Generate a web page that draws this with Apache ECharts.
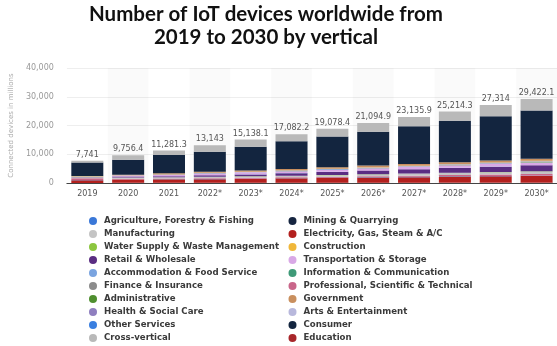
<!DOCTYPE html>
<html>
<head>
<meta charset="utf-8">
<script src="https://cdn.jsdelivr.net/npm/echarts@6/dist/echarts.min.js"></script>
<style>
html,body{margin:0;padding:0;background:#fff;}
#chart{width:557px;height:346px;}
</style>
</head>
<body>
<div id="chart"></div>
<script>
// ---- Data ----
var years = ['2019','2020','2021','2022*','2023*','2024*','2025*','2026*','2027*','2028*','2029*','2030*'];
var totals = [7741, 9756.4, 11281.3, 13143, 15138.1, 17082.2, 19078.4, 21094.9, 23135.9, 25214.3, 27314, 29422.1];
var yTicks = [0, 10000, 20000, 30000, 40000];

var education      = [40, 55, 60, 75, 80, 95, 100, 115, 120, 135, 140, 150];
var electricity    = [950, 1150, 1150, 1250, 1350, 1450, 1600, 1750, 1900, 2050, 2200, 2350];
var agriculture    = [15, 20, 22, 30, 33, 40, 44, 50, 56, 60, 66, 70];
var mining         = [20, 24, 30, 34, 40, 46, 50, 56, 60, 66, 70, 76];
var professional   = [650, 250, 260, 300, 310, 350, 360, 400, 410, 450, 460, 500];
var manufacturing  = [300, 380, 400, 450, 460, 500, 560, 600, 650, 700, 750, 800];
var waterSupply    = [14, 20, 26, 30, 34, 40, 46, 50, 54, 60, 64, 70];
var finance        = [20, 26, 30, 36, 40, 44, 50, 56, 60, 64, 70, 76];
var retail         = [100, 300, 350, 450, 650, 850, 1050, 1250, 1450, 1650, 1850, 2050];
var accommodation  = [16, 20, 24, 30, 36, 40, 44, 50, 56, 60, 66, 70];
var transportation = [150, 350, 450, 650, 600, 650, 700, 750, 800, 850, 900, 950];
var information    = [20, 26, 30, 34, 40, 46, 50, 54, 60, 66, 70, 76];
var administrative = [10, 12, 14, 16, 18, 20, 22, 24, 26, 28, 30, 32];
var health         = [30, 40, 50, 60, 70, 80, 90, 100, 110, 120, 130, 140];
var arts           = [20, 24, 30, 36, 40, 44, 50, 56, 60, 64, 70, 76];
var otherServices  = [15, 20, 24, 30, 34, 40, 46, 50, 54, 60, 66, 70];
var construction   = [30, 40, 50, 60, 70, 80, 90, 100, 110, 120, 130, 140];
var government     = [50, 150, 400, 350, 400, 450, 500, 550, 600, 650, 700, 750];
var consumer       = [4700, 5220, 6370, 6960, 8300, 9700, 10700, 11800, 13100, 14400, 15400, 16800];
var crossVertical  = [600, 1500, 1530, 2260, 2500, 2430, 2700, 3000, 3200, 3200, 3900, 4000];

var legendLeft = ['Agriculture, Forestry & Fishing','Manufacturing','Water Supply & Waste Management','Retail & Wholesale','Accommodation & Food Service','Finance & Insurance','Administrative','Health & Social Care','Other Services','Cross-vertical'];
var legendRight = ['Mining & Quarrying','Electricity, Gas, Steam & A/C','Construction','Transportation & Storage','Information & Communication','Professional, Scientific & Technical','Government','Arts & Entertainment','Consumer','Education'];

// stack order bottom -> top
var stackSeries = [
  ['Education', education, '#a8262a'],
  ['Electricity, Gas, Steam & A/C', electricity, '#b3201e'],
  ['Agriculture, Forestry & Fishing', agriculture, '#3a78d8'],
  ['Mining & Quarrying', mining, '#162540'],
  ['Professional, Scientific & Technical', professional, '#c9668a'],
  ['Manufacturing', manufacturing, '#c4c4c4'],
  ['Water Supply & Waste Management', waterSupply, '#8cc63f'],
  ['Finance & Insurance', finance, '#8c8c8c'],
  ['Retail & Wholesale', retail, '#5a2d82'],
  ['Accommodation & Food Service', accommodation, '#7aa4e0'],
  ['Transportation & Storage', transportation, '#d9a8e6'],
  ['Information & Communication', information, '#3f9a78'],
  ['Administrative', administrative, '#4f8f2f'],
  ['Health & Social Care', health, '#8f7fbf'],
  ['Arts & Entertainment', arts, '#b8b8dc'],
  ['Other Services', otherServices, '#3a7fe0'],
  ['Construction', construction, '#f0b73a'],
  ['Government', government, '#c98f5e'],
  ['Consumer', consumer, '#13253f'],
  ['Cross-vertical', crossVertical, '#b9b9b9']
];

function fmt(v){ return v.toLocaleString('en-US', {maximumFractionDigits: 1}); }

var series = stackSeries.map(function(s, i){
  var o = {
    name: s[0], type: 'bar', stack: 'all', data: s[1], barWidth: 32,
    itemStyle: {color: s[2]}, emphasis: {disabled: true}
  };
  if (i === stackSeries.length - 1) {
    o.label = {
      show: true, position: 'top', distance: 2,
      fontFamily: 'DejaVu Sans', fontSize: 8, color: '#555',
      formatter: function(p){ return fmt(totals[p.dataIndex]); }
    };
  }
  return o;
});

var legendCommon = {
  orient: 'vertical', icon: 'circle', itemWidth: 8, itemHeight: 8, itemGap: 4,
  selectedMode: false, padding: 0, height: 140,
  textStyle: {fontFamily: 'DejaVu Sans', fontSize: 8.6, fontWeight: 'bold', color: '#3a3a3a', lineHeight: 9, padding: [0,0,0,2]}
};

var chart = echarts.init(document.getElementById('chart'), null, {renderer: 'canvas'});
chart.setOption({
  animation: false,
  backgroundColor: '#fff',
  title: {
    text: 'Number of IoT devices worldwide from\n2019 to 2030 by vertical',
    left: 266, top: 3, textAlign: 'center', padding: 0,
    textStyle: {fontFamily: 'Lato', fontWeight: 'bold', fontSize: 20.5, lineHeight: 23, color: '#111'}
  },
  legend: [
    Object.assign({}, legendCommon, {left: 89, top: 216.5, data: legendLeft}),
    Object.assign({}, legendCommon, {left: 288.5, top: 216.5, data: legendRight})
  ],
  grid: {left: 63, right: -3, top: 68, bottom: 163, containLabel: false},
  xAxis: {
    type: 'category', data: years,
    axisLine: {lineStyle: {color: '#444', width: 1}},
    axisTick: {show: false},
    axisLabel: {fontFamily: 'DejaVu Sans', fontSize: 8, color: '#555', margin: 7},
    splitArea: {show: true, areaStyle: {color: ['rgba(255,255,255,0)', 'rgba(0,0,0,0.02)']}}
  },
  yAxis: {
    type: 'value', min: yTicks[0], max: yTicks[yTicks.length-1], interval: 10000,
    name: 'Connected devices in millions', nameLocation: 'middle', nameGap: 47,
    nameTextStyle: {fontFamily: 'DejaVu Sans', fontSize: 7, color: '#aaa'},
    axisLine: {show: false}, axisTick: {show: false},
    axisLabel: {fontFamily: 'DejaVu Sans', fontSize: 8, color: '#999', margin: 13,
      formatter: function(v){ return fmt(v); }},
    splitLine: {lineStyle: {color: '#eee', width: 1}}
  },
  series: series
});
</script>
</body>
</html>
